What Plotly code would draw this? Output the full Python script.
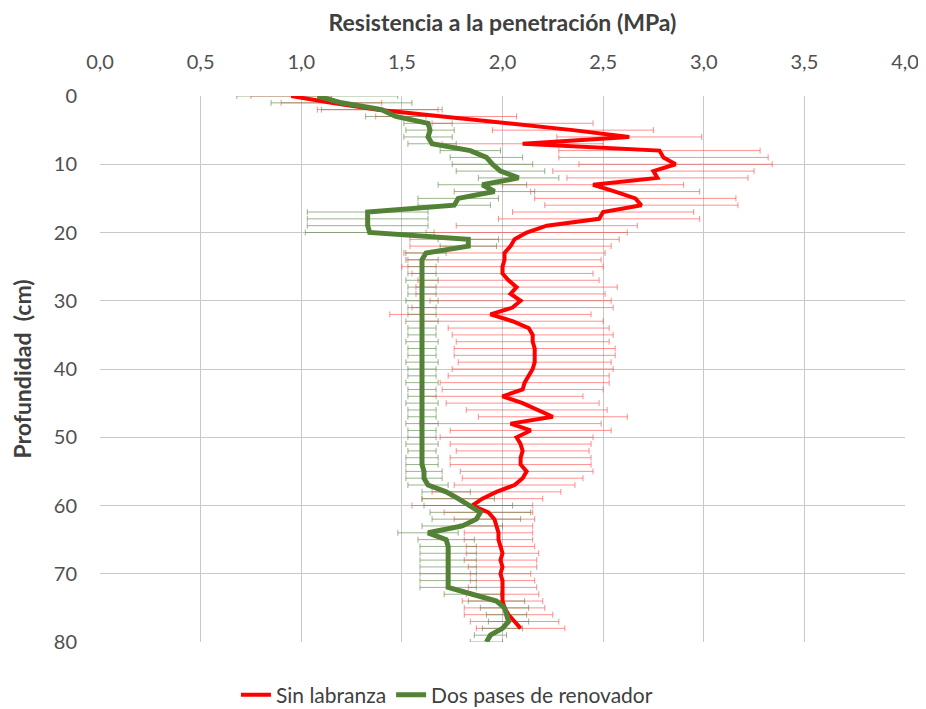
import plotly.graph_objects as go

# Depth (cm)
depth_red = list(range(0, 79))
depth_green = list(range(0, 81))

# Sin labranza (MPa)
red_vals = [0.95, 1.15, 1.38, 1.72, 2.05, 2.35, 2.63, 2.10, 2.78, 2.80,
            2.86, 2.75, 2.77, 2.45, 2.56, 2.66, 2.69, 2.50, 2.48, 2.22,
            2.12, 2.06, 2.04, 2.01, 2.01, 2.00, 2.00, 2.03, 2.07, 2.04,
            2.09, 2.05, 1.94, 2.05, 2.13, 2.15, 2.15, 2.16, 2.16, 2.16,
            2.15, 2.13, 2.11, 2.10, 2.00, 2.10, 2.17, 2.25, 2.04, 2.14,
            2.07, 2.09, 2.10, 2.09, 2.09, 2.12, 2.10, 2.06, 1.97, 1.90,
            1.85, 1.93, 1.96, 1.97, 1.98, 1.98, 1.99, 2.00, 1.99, 2.00,
            1.99, 2.00, 2.00, 2.00, 2.00, 2.01, 2.03, 2.06, 2.09]
red_err = [0.20, 0.25, 0.30,
           0.35, 0.40, 0.40, 0.36, 0.40,
           0.50, 0.52, 0.48, 0.50, 0.45,
           0.45, 0.42, 0.50, 0.48, 0.45, 0.50,
           0.45, 0.50, 0.52, 0.50, 0.50,
           0.48, 0.50, 0.45, 0.45, 0.50, 0.47, 0.45, 0.50, 0.50, 0.45,
           0.40, 0.40, 0.38, 0.40, 0.40, 0.38, 0.40, 0.40, 0.42, 0.40, 0.40, 0.38,
           0.35, 0.37, 0.45, 0.40, 0.38, 0.35, 0.33, 0.35, 0.35, 0.33, 0.30, 0.30, 0.32,
           0.30, 0.30, 0.22, 0.20, 0.18, 0.17, 0.17,
           0.17, 0.18, 0.18, 0.17, 0.15, 0.16, 0.17, 0.18, 0.20, 0.20, 0.22, 0.22, 0.22]

# Dos pases de renovador (MPa)
green_vals = [1.08, 1.20, 1.40, 1.47, 1.63, 1.64, 1.63, 1.65, 1.84, 1.92,
              1.95, 1.99, 2.08, 1.90, 1.96, 1.78, 1.76, 1.33, 1.33, 1.33,
              1.34, 1.83, 1.83, 1.62, 1.60, 1.60, 1.60, 1.60, 1.60, 1.60,
              1.60, 1.60, 1.60, 1.60, 1.60, 1.60, 1.60, 1.60, 1.60, 1.60,
              1.60, 1.60, 1.60, 1.60, 1.60, 1.60, 1.60, 1.60, 1.60, 1.60,
              1.60, 1.60, 1.60, 1.60, 1.60, 1.61, 1.61, 1.63, 1.72, 1.78,
              1.83, 1.89, 1.87, 1.80, 1.63, 1.72, 1.73, 1.73, 1.73, 1.73,
              1.73, 1.73, 1.73, 1.85, 1.97, 2.01, 2.02, 2.03, 2.00, 1.94,
              1.92]
green_err = [0.40, 0.35, 0.30,
             0.15, 0.12, 0.12, 0.12, 0.12,
             0.15, 0.18, 0.20, 0.22, 0.20, 0.22, 0.20, 0.20, 0.18,
             0.30, 0.30, 0.30, 0.32,
             0.15, 0.14, 0.10,
             0.08, 0.07, 0.07, 0.08, 0.07, 0.07, 0.08, 0.07, 0.07, 0.08, 0.07,
             0.07, 0.08, 0.07, 0.07, 0.08, 0.07, 0.07, 0.08, 0.07, 0.07, 0.08,
             0.07, 0.07, 0.08, 0.07, 0.07, 0.08, 0.07, 0.08, 0.08, 0.09, 0.09,
             0.10, 0.12, 0.18, 0.22, 0.25, 0.22, 0.20, 0.15, 0.14,
             0.14, 0.14, 0.14, 0.14, 0.14, 0.14, 0.14, 0.14, 0.14,
             0.12, 0.10, 0.10, 0.10, 0.08, 0.08]

x_ticks = [0, 0.5, 1.0, 1.5, 2.0, 2.5, 3.0, 3.5, 4.0]
y_ticks = [0, 10, 20, 30, 40, 50, 60, 70, 80]

RED = "#FF0000"
GREEN = "#538135"
FONT = "Lato, 'Open Sans', sans-serif"
TXT = "#404040"
TICK = "#505050"

fig = go.Figure()

# error bars (drawn beneath the lines)
fig.add_trace(go.Scatter(
    x=red_vals, y=depth_red, mode="markers",
    marker=dict(size=1, color="rgba(0,0,0,0)"),
    error_x=dict(type="data", array=red_err, symmetric=True,
                 color="rgba(255,70,70,0.6)", thickness=1, width=3),
    showlegend=False, hoverinfo="skip"))
fig.add_trace(go.Scatter(
    x=green_vals, y=depth_green, mode="markers",
    marker=dict(size=1, color="rgba(0,0,0,0)"),
    error_x=dict(type="data", array=green_err, symmetric=True,
                 color="rgba(100,140,80,0.65)", thickness=1, width=3),
    showlegend=False, hoverinfo="skip"))

fig.add_trace(go.Scatter(
    x=red_vals, y=depth_red, mode="lines", name="Sin labranza",
    line=dict(color=RED, width=4)))
fig.add_trace(go.Scatter(
    x=green_vals, y=depth_green, mode="lines", name="Dos pases de renovador",
    line=dict(color=GREEN, width=5)))

fig.update_layout(
    width=918, height=701,
    margin=dict(l=92, r=21, t=88, b=67, autoexpand=False),
    paper_bgcolor="white", plot_bgcolor="white",
    separators=",.",
    font=dict(family=FONT, size=20, color=TICK),
    legend=dict(orientation="h", x=0.431, xanchor="center",
                yref="container", y=0.02, yanchor="middle",
                font=dict(size=21, color=TXT), traceorder="normal"),
    xaxis=dict(
        side="top", range=[0, 4.0], tickvals=x_ticks, tickformat=".1f",
        tickfont=dict(size=20, color=TICK),
        showgrid=True, gridcolor="#C8C8C8", gridwidth=1,
        zeroline=False, showline=False, ticks="", automargin=False,
        ticklabelstandoff=22,
        title=dict(text="<b>Resistencia a la penetración (MPa)</b>",
                   font=dict(size=23, color=TXT), standoff=17),
    ),
    yaxis=dict(
        autorange=False, range=[80, 0], tickvals=y_ticks,
        tickfont=dict(size=20, color=TICK),
        showgrid=True, gridcolor="#C8C8C8", gridwidth=1,
        zeroline=False, showline=False, ticks="", automargin=False,
        ticklabelstandoff=22,
        title=dict(text="<b>Profundidad  (cm)</b>",
                   font=dict(size=23, color=TXT), standoff=16),
    ),
)

fig.write_html("out.html")
